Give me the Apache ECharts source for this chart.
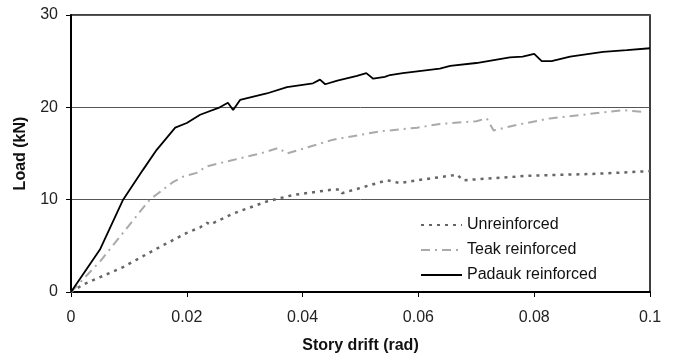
<!DOCTYPE html>
<html>
<head>
<meta charset="utf-8">
<script src="https://cdn.jsdelivr.net/npm/echarts@6/dist/echarts.min.js"></script>
<style>
  html, body { margin: 0; padding: 0; background: #fff; }
  #chart { width: 678px; height: 355px; }
</style>
</head>
<body>
<div id="chart"></div>
<script>
// 数据
var unreinDrift = [0, 0.0021, 0.009, 0.0154, 0.020, 0.0223, 0.0235, 0.024, 0.028, 0.0338, 0.0383, 0.0453, 0.0465, 0.0468, 0.0546, 0.0568, 0.0598, 0.0667, 0.0677, 0.0793, 0.0908, 0.1]
var unreinLoad  = [0, 0.8, 2.7, 4.9, 6.4, 7.0, 7.5, 7.3, 8.5, 9.8, 10.5, 11.1, 11.1, 10.7, 12.1, 11.8, 12.1, 12.7, 12.1, 12.6, 12.8, 13.1]

var teakDrift = [0, 0.005, 0.0136, 0.0176, 0.0194, 0.0217, 0.0234, 0.028, 0.0327, 0.0358, 0.0373, 0.0453, 0.0534, 0.0598, 0.0637, 0.070, 0.0718, 0.073, 0.077, 0.0827, 0.0884, 0.0953, 0.0988]
var teakLoad  = [0, 3.3, 10.0, 11.9, 12.5, 12.9, 13.6, 14.3, 15.0, 15.6, 15.0, 16.5, 17.4, 17.8, 18.2, 18.5, 18.8, 17.5, 18.1, 18.8, 19.2, 19.7, 19.5]

var padaukDrift = [0, 0.005, 0.009, 0.0124, 0.0148, 0.018, 0.020, 0.0223, 0.0257, 0.0271, 0.028, 0.0292, 0.0338, 0.0373, 0.0418, 0.043, 0.0439, 0.046, 0.0494, 0.051, 0.0522, 0.0542, 0.0551, 0.0573, 0.0637, 0.0655, 0.070, 0.0758, 0.078, 0.080, 0.0813, 0.083, 0.0862, 0.0919, 0.096, 0.1]
var padaukLoad  = [0, 4.6, 10.0, 13.2, 15.4, 17.8, 18.3, 19.2, 20.0, 20.5, 19.7, 20.8, 21.5, 22.2, 22.6, 23.0, 22.5, 22.9, 23.4, 23.7, 23.1, 23.3, 23.5, 23.7, 24.2, 24.5, 24.8, 25.4, 25.5, 25.8, 25.0, 25.0, 25.5, 26.0, 26.2, 26.4]

function pairs(xs, ys) {
    return xs.map(function (x, i) { return [x, ys[i]] })
}

var chart = echarts.init(document.getElementById('chart'))
var fontFam = 'Liberation Sans, Arial, sans-serif'
var option = {
    animation: false,
    grid: {
        left: 71,
        right: 28,
        top: 15,
        bottom: 63,
        outerBoundsMode: 'none',
        show: true,
        borderColor: '#000',
        borderWidth: 1.5,
    },
    legend: {
        orient: 'vertical',
        left: 415,
        top: 212,
        itemWidth: 41,
        itemHeight: 10,
        itemGap: 9,
        itemStyle: { opacity: 0 },
        textStyle: { color: '#111', fontSize: 16, fontFamily: fontFam },
        data: ['Unreinforced', 'Teak reinforced', 'Padauk reinforced'],
    },
    xAxis: {
        type: 'value',
        min: 0,
        max: 0.1,
        interval: 0.02,
        name: 'Story drift (rad)',
        nameLocation: 'middle',
        nameGap: 46,
        nameTextStyle: { color: '#111', fontSize: 16, fontWeight: 'bold', fontFamily: fontFam },
        axisLine: { lineStyle: { color: '#000', width: 2 } },
        axisTick: { show: true, length: 5, lineStyle: { color: '#000' } },
        axisLabel: {
            color: '#222', fontSize: 16, fontFamily: fontFam, margin: 18,
            formatter: function (v) { return v === 0 ? '0' : String(+v.toFixed(2)) },
        },
        splitLine: { show: false },
    },
    yAxis: {
        type: 'value',
        min: 0,
        max: 30,
        interval: 10,
        name: 'Load (kN)',
        nameLocation: 'middle',
        nameGap: 42,
        nameTextStyle: { color: '#111', fontSize: 16, fontWeight: 'bold', fontFamily: fontFam },
        axisLine: { show: true, lineStyle: { color: '#000', width: 2 } },
        axisTick: { show: true, length: 5, lineStyle: { color: '#000' } },
        axisLabel: { color: '#222', fontSize: 16, fontFamily: fontFam, margin: 13 },
        splitLine: { lineStyle: { color: '#555', width: 1 } },
    },
    series: [
        {
            name: 'Unreinforced',
            type: 'line',
            data: pairs(unreinDrift, unreinLoad),
            showSymbol: false,
            symbol: 'none',
            color: '#666',
            lineStyle: { color: '#666', width: 2.5, type: [3, 5] },
        },
        {
            name: 'Teak reinforced',
            type: 'line',
            data: pairs(teakDrift, teakLoad),
            showSymbol: false,
            symbol: 'none',
            color: '#aaa',
            lineStyle: { color: '#aaa', width: 2, type: [9, 5, 2, 5] },
        },
        {
            name: 'Padauk reinforced',
            type: 'line',
            data: pairs(padaukDrift, padaukLoad),
            showSymbol: false,
            symbol: 'none',
            color: '#000',
            lineStyle: { color: '#000', width: 1.8 },
        },
    ],
}
chart.setOption(option)
window.addEventListener('resize', chart.resize)
</script>
</body>
</html>
